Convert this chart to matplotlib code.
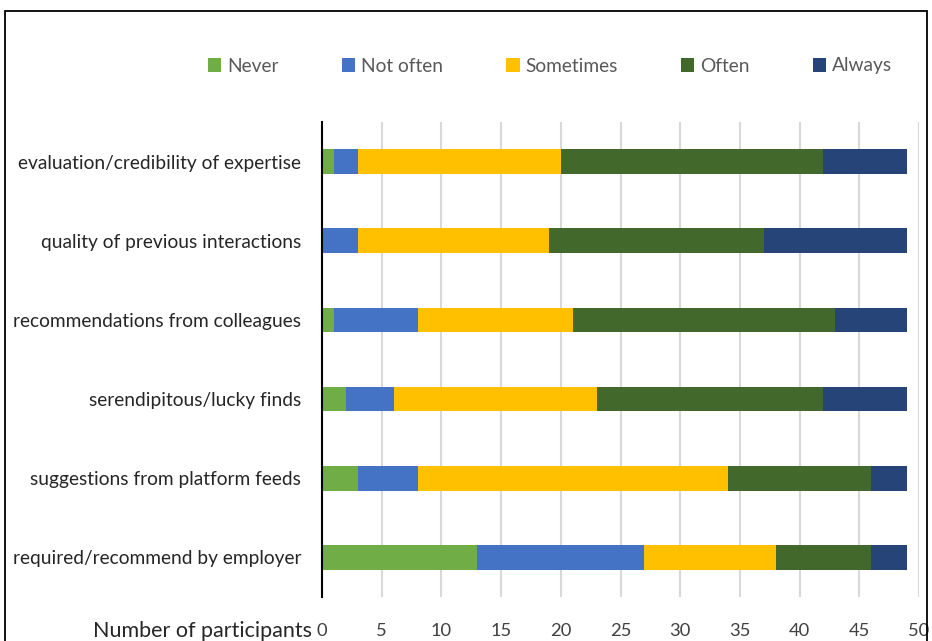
import numpy as np
import matplotlib.pyplot as plt
from matplotlib.patches import Rectangle

plt.rcParams['font.family'] = ['Lato', 'DejaVu Sans']

# sources of recommendations, listed top to bottom
sources = ['evaluation/credibility of expertise',
           'quality of previous interactions',
           'recommendations from colleagues',
           'serendipitous/lucky finds',
           'suggestions from platform feeds',
           'required/recommend by employer']

never     = [1, 0, 1, 2, 3, 13]
not_often = [2, 3, 7, 4, 5, 14]
sometimes = [17, 16, 13, 17, 26, 11]
often     = [22, 18, 22, 19, 12, 8]
always    = [7, 12, 6, 7, 3, 3]

answers = ['Never', 'Not often', 'Sometimes', 'Often', 'Always']
colours = ['#70AD47', '#4472C4', '#FFC000', '#43682B', '#264478']
x_ticks = [0, 5, 10, 15, 20, 25, 30, 35, 40, 45, 50]

fig = plt.figure(figsize=(9.32, 6.41), dpi=100)
ax = fig.add_axes([322/932, 1 - 597/641, 597/932, 475/641])

y = np.arange(len(sources))
left = np.zeros(len(sources))
for vals, name, col in zip([never, not_often, sometimes, often, always], answers, colours):
    ax.barh(y, vals, left=left, height=0.31, color=col, label=name, zorder=3)
    left += np.array(vals)

ax.set_ylim(len(sources) - 0.5, -0.5)
ax.set_xlim(0, 50)
ax.set_xticks(x_ticks)
ax.set_yticks(y)
ax.set_yticklabels(sources)
ax.tick_params(axis='y', length=0, pad=15, labelsize=13.8, labelcolor='#262626')
ax.tick_params(axis='x', length=0, pad=19, labelsize=13.2, labelcolor='#404040')
ax.grid(axis='x', color='#d9d9d9', linewidth=1.5, zorder=0)
for s in ['top', 'right', 'bottom']:
    ax.spines[s].set_visible(False)
ax.spines['left'].set_linewidth(1.5)
ax.spines['left'].set_color('black')
ax.spines['left'].set_zorder(4)

fig.text(312/932, 1 - 631/641, 'Number of participants', ha='right', va='center',
         fontsize=15.5, color='#262626')

leg = fig.legend(loc='center', bbox_to_anchor=(550/932, 1 - 66/641), ncol=5,
                 frameon=False, fontsize=13.8, handlelength=0.7, handleheight=0.7,
                 handletextpad=0.3, columnspacing=3.3)
for t in leg.get_texts():
    t.set_color('#595959')

# outer frame, open at the bottom
fig.add_artist(Rectangle((5/932, -0.05), 922/932, 1.05 - 11/641, transform=fig.transFigure,
                         fill=False, edgecolor='black', linewidth=1.3))

fig.savefig('out.png', dpi=100)
